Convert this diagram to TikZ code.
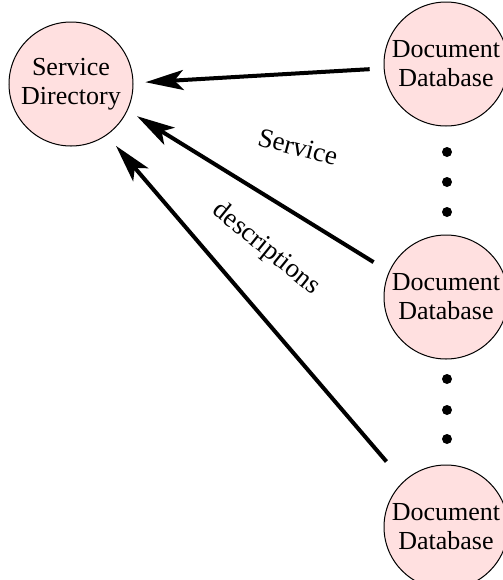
\documentclass[tikz,border=0pt]{standalone}
\usepackage{fontspec}
\setmainfont{Liberation Serif}
\usepackage{tikz}
\usetikzlibrary{arrows.meta, positioning}

\definecolor{dbpink}{RGB}{255,224,224}

\begin{document}
\begin{tikzpicture}[x=0.5pt, y=-0.5pt,
    >={Stealth[length=19pt, width=10pt, inset=4.5pt]},
    dbnode/.style={circle, draw=black, line width=0.5pt, fill=dbpink,
        minimum size=62pt, inner sep=0pt, align=center,
        font=\fontsize{13}{14.5}\selectfont},
    flow/.style={->, line width=2pt},
    lbl/.style={font=\fontsize{13.5}{15}\selectfont}]

    \useasboundingbox (0,0) rectangle (503,580);

    \node[dbnode] (sd) at (71,84) {Service\\Directory};

    \node[dbnode] (db1) at (446,64) {Document\\Database};
    \node[dbnode] (db2) at (446,297) {Document\\Database};
    \node[dbnode] (db3) at (446,527) {Document\\Database};

    \draw[flow, shorten <=7pt, shorten >=6pt] (db1.184) -- (sd.1);
    \draw[flow, shorten <=9pt, shorten >=5.5pt] (db2.156) -- (sd.-25);
    \draw[flow, shorten <=13pt, shorten >=7pt] (db3.133) -- (sd.-55);

    \foreach \y in {152,182,212,379,410,439}
        \fill (447,\y) circle (2.5pt);

    \node[lbl, rotate=-15] (svc) at (298,147) {Service};
    \node[lbl, rotate=-39] (desc) at (266,249) {descriptions};

\end{tikzpicture}
\end{document}
